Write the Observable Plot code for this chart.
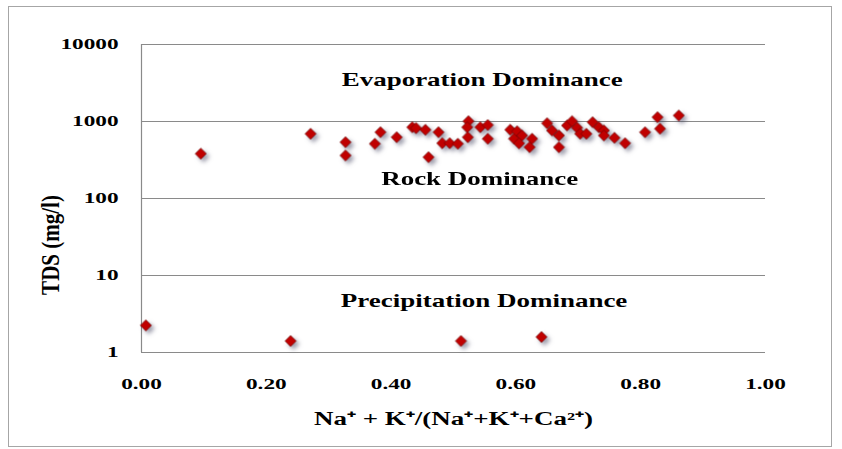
<!DOCTYPE html>
<html>
<head>
<meta charset="utf-8">
<script src="https://cdn.jsdelivr.net/npm/d3@7"></script>
<script src="https://cdn.jsdelivr.net/npm/@observablehq/plot@0.6"></script>
<style>
  html, body { margin: 0; padding: 0; background: #fff; }
  #wrap { position: relative; width: 842px; height: 449px; overflow: hidden; }
  #frame { position: absolute; left: 8px; top: 6px; width: 824px; height: 441px; border: 1px solid #a6a6a6; box-sizing: border-box; }
  #chart { position: absolute; left: 0; top: 0; }
  #ylabel { position: absolute; left: 52px; top: 245px; transform: translate(-50%, -50%) rotate(-90deg) scaleY(1.15);
            font-family: 'Liberation Serif', 'Times New Roman', serif; font-weight: bold; font-size: 21px; white-space: nowrap; color: #000; line-height: 1; }
</style>
</head>
<body>
<div id="wrap"><div id="frame"></div><div id="chart"></div><div id="ylabel"></div></div>
<script>
// Na+ + K+ / (Na+ + K+ + Ca2+) ratio of each sample
const ratio = [0.007, 0.239, 0.512, 0.641, 0.095, 0.271, 0.327, 0.327, 0.374, 0.383,
  0.409, 0.434, 0.440, 0.455, 0.476, 0.460, 0.482, 0.494, 0.507, 0.524,
  0.522, 0.523, 0.543, 0.555, 0.555, 0.591, 0.597, 0.602, 0.610, 0.605,
  0.626, 0.622, 0.650, 0.658, 0.669, 0.669, 0.682, 0.690, 0.698, 0.703,
  0.713, 0.723, 0.733, 0.741, 0.741, 0.758, 0.775, 0.807, 0.827, 0.831, 0.861];
// TDS (mg/l) of each sample
const tds = [2.25, 1.41, 1.41, 1.59, 382, 692, 538, 362, 513, 726,
  625, 843, 820, 780, 726, 344, 523, 523, 513, 1009,
  843, 625, 843, 900, 596, 780, 596, 747, 658, 520,
  596, 464, 951, 764, 658, 464, 887, 1009, 828, 692,
  692, 980, 843, 764, 658, 614, 523, 726, 1137, 804, 1197];

const xTicks = [0, 0.2, 0.4, 0.6, 0.8, 1.0];
const yTicks = [1, 10, 100, 1000, 10000];

const regionNames = ["Evaporation Dominance", "Rock Dominance", "Precipitation Dominance"];
const regionX = [0.546, 0.542, 0.549];
const regionY = [3460, 177, 4.67];

const xLabel = "Na\u207A + K\u207A/(Na\u207A+K\u207A+Ca\u00B2\u207A)";
const yLabel = "TDS (mg/l)";

const samples = ratio.map((r, i) => ({r, t: tds[i]}));
const regions = regionNames.map((n, i) => ({n, x: regionX[i], y: regionY[i]}));

const grid = "#8a8a8a";
const font = "'Liberation Serif', 'Times New Roman', serif";

const plot = Plot.plot({
  width: 842,
  height: 449,
  marginLeft: 141,
  marginRight: 77,
  marginTop: 44,
  marginBottom: 97,
  style: {fontFamily: font, fontWeight: "bold", fontSize: "15px", color: "#000", background: "transparent", overflow: "visible"},
  x: {domain: [0, 1]},
  y: {type: "log", domain: [1, 10000]},
  marks: [
    Plot.gridY(yTicks, {stroke: grid, strokeOpacity: 1, strokeWidth: 1.2}),
    Plot.ruleX([0], {stroke: grid, strokeWidth: 1.2}),
    Plot.axisY(yTicks, {tickSize: 0, tickPadding: 23, label: null, tickFormat: d3.format("d"), fontSize: 15}),
    Plot.axisX(xTicks, {tickSize: 0, tickPadding: 26, label: null, tickFormat: d3.format(".2f"), fontSize: 15}),
    Plot.dot(samples, {x: "r", y: "t", symbol: "diamond2", r: 5, fill: "#c00000", stroke: "#6e0000", strokeWidth: 0.7}),
    Plot.text(regions, {x: "x", y: "y", text: "n", fontSize: 19, textAnchor: "middle", lineAnchor: "middle"}),
    Plot.text([xLabel], {frameAnchor: "bottom", dy: 67, fontSize: 18, lineAnchor: "middle"})
  ]
});

document.getElementById("chart").appendChild(plot);
document.getElementById("ylabel").textContent = yLabel;

// Shadow under the markers, like the spreadsheet original
d3.select(plot).selectAll('g[aria-label="dot"]').style("filter", "drop-shadow(3px 3px 2px rgba(60,60,90,0.5))");

// The original's lettering is horizontally stretched
d3.select(plot).selectAll("text").each(function() {
  const s = this.textContent;
  const w = this.getComputedTextLength();
  let L = null;
  if (regionNames.includes(s)) L = w * 1.42;
  else if (s === xLabel) L = 279;
  else if (/^[0-9.]+$/.test(s)) L = w * 1.55;
  if (L) { this.setAttribute("textLength", L); this.setAttribute("lengthAdjust", "spacingAndGlyphs"); }
});
</script>
</body>
</html>
